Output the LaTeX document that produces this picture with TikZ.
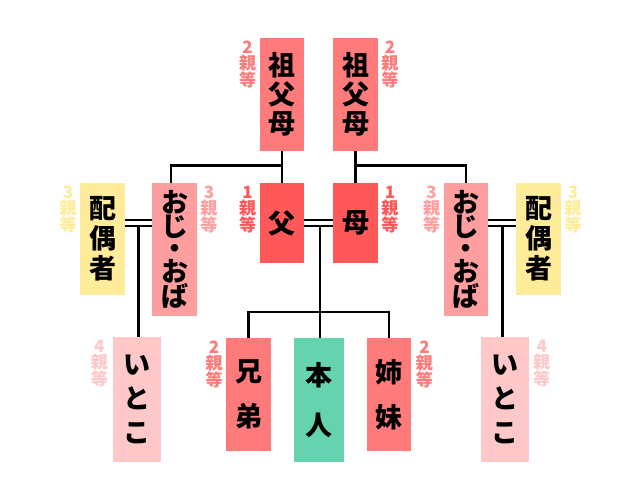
\documentclass[tikz,border=0pt]{standalone}
\usepackage{fontspec}
\newfontfamily\jp{Noto Sans CJK JP}
\definecolor{gpsalmon}{RGB}{255, 122, 122}
\definecolor{parentred}{RGB}{255, 88, 88}
\definecolor{unclepink}{RGB}{255, 158, 158}
\definecolor{spouseyellow}{RGB}{255, 236, 155}
\definecolor{cousinpink}{RGB}{255, 200, 200}
\definecolor{selfgreen}{RGB}{102, 211, 176}
\usetikzlibrary{positioning, calc}
\newcommand{\kinfont}[1]{\jp\bfseries\fontsize{27}{#1}\selectfont}

\begin{document}
\begin{tikzpicture}[x=1pt, y=-1pt,
    kin/.style={fill=#1, minimum width=44.5pt, inner sep=0pt, align=center},
    deg/.style={text=#1, font=\jp\bfseries\fontsize{17}{16}\selectfont, align=center, inner sep=0pt, anchor=north},
    tie/.style={line width=2.5pt},
    marry/.style={line width=2.3pt, double distance=4.3pt}]
  \useasboundingbox (0,0) rectangle (641,501);

  % Grandparents and parents
  \node[kin=gpsalmon, minimum height=113pt, font=\kinfont{29}] (gpL) at (282, 94.5) {祖\\父\\母};
  \node[kin=gpsalmon, minimum height=113pt, font=\kinfont{29}] (gpR) at (355.5, 94.5) {祖\\父\\母};
  \node[kin=parentred, minimum height=80pt, font=\kinfont{29}] (fa) at (282, 223) {父};
  \node[kin=parentred, minimum height=80pt, font=\kinfont{29}] (mo) at (355.5, 223) {母};

  % Uncles, aunts and their spouses
  \node[kin=spouseyellow, minimum height=112pt, font=\kinfont{30}] (spL) at (102.5, 239) {配\\偶\\者};
  \node[kin=unclepink, minimum height=133pt, font=\kinfont{21.5}] (unL) at (174.5, 249.5) {お\\じ\\・\\お\\ば};
  \node[kin=unclepink, minimum height=133pt, font=\kinfont{21.5}] (unR) at (466, 249.5) {お\\じ\\・\\お\\ば};
  \node[kin=spouseyellow, minimum height=112pt, font=\kinfont{30}] (spR) at (538.5, 239) {配\\偶\\者};

  % Cousins, siblings and self
  \node[kin=cousinpink, minimum width=48pt, minimum height=125pt, font=\kinfont{34}] (coL) at (136.5, 399.5) {い\\と\\こ};
  \node[kin=cousinpink, minimum width=48pt, minimum height=125pt, font=\kinfont{34}] (coR) at (504.5, 399.5) {い\\と\\こ};
  \node[kin=gpsalmon, minimum height=113pt, font=\kinfont{45}] (br) at (248.5, 394.5) {兄\\弟};
  \node[kin=selfgreen, minimum width=50pt, minimum height=124pt, font=\kinfont{50}] (me) at (319, 400) {本\\人};
  \node[kin=gpsalmon, minimum height=113pt, font=\kinfont{45}] (si) at (389, 394.5) {姉\\妹};

  % Degree labels
  \node[deg=gpsalmon] (gpLdeg) at ($(gpL.north west)+(-12,3)$) {2\\親\\等};
  \node[deg=gpsalmon] (gpRdeg) at ($(gpR.north east)+(12,3)$) {2\\親\\等};
  \node[deg=parentred] (fadeg) at ($(fa.north west)+(-12,3)$) {1\\親\\等};
  \node[deg=parentred] (modeg) at ($(mo.north east)+(12,3)$) {1\\親\\等};
  \node[deg=spouseyellow] (spLdeg) at ($(spL.north west)+(-12,3)$) {3\\親\\等};
  \node[deg=unclepink] (unLdeg) at ($(unL.north east)+(12,3)$) {3\\親\\等};
  \node[deg=unclepink] (unRdeg) at ($(unR.north west)+(-12,3)$) {3\\親\\等};
  \node[deg=spouseyellow] (spRdeg) at ($(spR.north east)+(12,3)$) {3\\親\\等};
  \node[deg=cousinpink] (coLdeg) at ($(coL.north west)+(-13,3)$) {4\\親\\等};
  \node[deg=cousinpink] (coRdeg) at ($(coR.north east)+(13,3)$) {4\\親\\等};
  \node[deg=gpsalmon] (brdeg) at ($(br.north west)+(-12,3)$) {2\\親\\等};
  \node[deg=gpsalmon] (sideg) at ($(si.north east)+(13,3)$) {2\\親\\等};

  % Lines of descent
  \coordinate (gpLjoin) at ($(gpL.south)!0.45!(fa.north)$);
  \coordinate (gpRjoin) at ($(gpR.south)!0.45!(mo.north)$);
  \draw[tie] (gpL.south) -- (fa.north);
  \draw[tie] (gpR.south) -- (mo.north);
  \draw[tie] (gpLjoin) -| ($(unL.north)+(-3.5,0)$);
  \draw[tie] (gpRjoin) -| (unR.north);

  \coordinate (famid) at ($(fa.east)!0.55!(mo.west)$);
  \coordinate (sibbar) at ($(famid |- me.north)+(0,-26)$);
  \draw[tie] ($(famid)+(0,2.8)$) -- (famid |- me.north);
  \draw[tie] (br.north) -- (br.north |- sibbar) -- (si.north |- sibbar) -- (si.north);

  \coordinate (unLmid) at ($(spL.east |- fa.east)!0.5!(unL.west |- fa.east)$);
  \coordinate (unRmid) at ($(unR.east |- mo.west)!0.5!(spR.west |- mo.west)$);
  \draw[tie] ($(unLmid)+(0,2.8)$) -- (unLmid |- coL.north);
  \draw[tie] ($(unRmid)+(0,2.8)$) -- (unRmid |- coR.north);

  % Marriages
  \draw[marry] (fa.east) -- (mo.west);
  \draw[marry] (spL.east |- fa.east) -- (unL.west |- fa.east);
  \draw[marry] (unR.east |- mo.west) -- (spR.west |- mo.west);
\end{tikzpicture}
\end{document}
